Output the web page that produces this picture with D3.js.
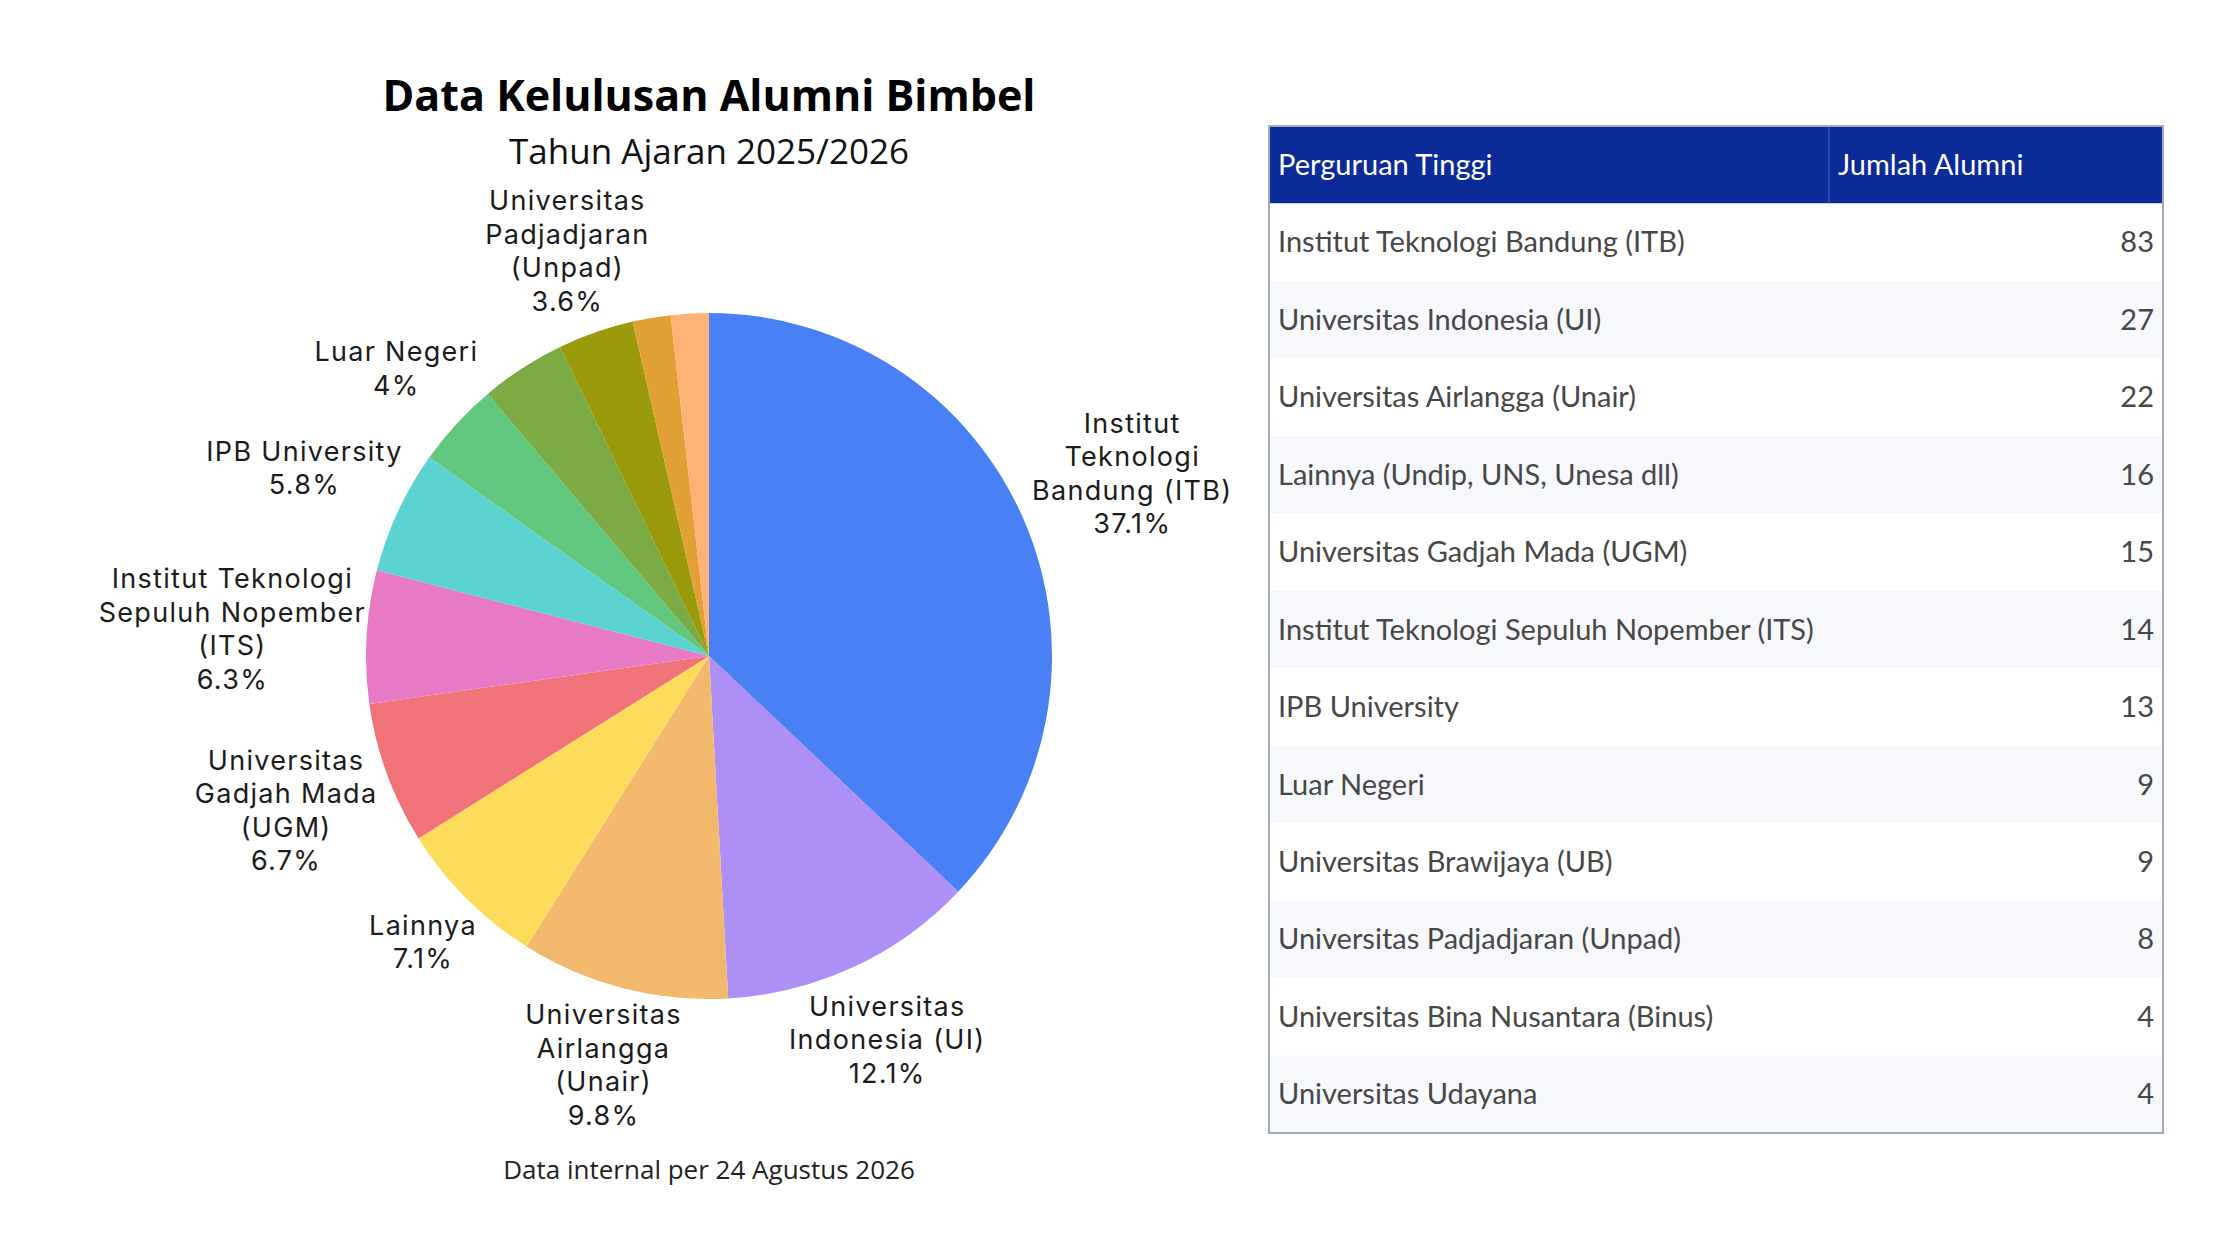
<!DOCTYPE html>
<html>
<head>
<meta charset="utf-8">
<script src="https://cdn.jsdelivr.net/npm/d3@7.9.0/dist/d3.min.js"></script>
<style>
  html, body { margin: 0; padding: 0; background: #fff; }
  svg { display: block; }
  .lbl { font-family: Inter, sans-serif; font-size: 27px; letter-spacing: 1.3px; fill: #1b1b1b; }
  .cell { font-family: Lato, sans-serif; font-size: 29px; fill: #474747; }
</style>
</head>
<body>
<svg id="chart" width="2240" height="1260"></svg>
<script>
// data
const names = [
  'Institut Teknologi Bandung (ITB)',
  'Universitas Indonesia (UI)',
  'Universitas Airlangga (Unair)',
  'Lainnya (Undip, UNS, Unesa dll)',
  'Universitas Gadjah Mada (UGM)',
  'Institut Teknologi Sepuluh Nopember (ITS)',
  'IPB University',
  'Luar Negeri',
  'Universitas Brawijaya (UB)',
  'Universitas Padjadjaran (Unpad)',
  'Universitas Bina Nusantara (Binus)',
  'Universitas Udayana'
];
const counts = [83, 27, 22, 16, 15, 14, 13, 9, 9, 8, 4, 4];
// how the pie labels wrap
const pieLabels = [
  'Institut\nTeknologi\nBandung (ITB)',
  'Universitas\nIndonesia (UI)',
  'Universitas\nAirlangga\n(Unair)',
  'Lainnya',
  'Universitas\nGadjah Mada\n(UGM)',
  'Institut Teknologi\nSepuluh Nopember\n(ITS)',
  'IPB University',
  'Luar Negeri',
  'Universitas\nBrawijaya\n(UB)',
  'Universitas\nPadjadjaran\n(Unpad)',
  'Universitas Bina\nNusantara\n(Binus)',
  'Universitas\nUdayana'
];
const colors = ['#4a80f5', '#ad8ff5', '#f2b96c', '#fddc5c', '#f0737a', '#e879c4',
                '#5ad3d1', '#62c77e', '#7aab45', '#9a9a0a', '#e0a033', '#fdb377'];
const headers = ['Perguruan Tinggi', 'Jumlah Alumni'];

const svg = d3.select('#chart');
const total = d3.sum(counts);

// ---- titles
const cx = 709, cy = 656, R = 343;
svg.append('text')
  .attr('x', cx).attr('y', 96).attr('dy', '0.35em')
  .attr('text-anchor', 'middle')
  .style('font-family', '"Open Sans", sans-serif').style('font-weight', 700)
  .style('font-size', '43px').style('fill', '#000')
  .text('Data Kelulusan Alumni Bimbel');
svg.append('text')
  .attr('x', cx).attr('y', 152).attr('dy', '0.35em')
  .attr('text-anchor', 'middle')
  .style('font-family', '"Open Sans", sans-serif')
  .style('font-size', '35px').style('fill', '#111')
  .text('Tahun Ajaran 2025/2026');
svg.append('text')
  .attr('x', cx).attr('y', 1170).attr('dy', '0.35em')
  .attr('text-anchor', 'middle')
  .style('font-family', '"Open Sans", sans-serif')
  .style('font-size', '26px').style('fill', '#222')
  .text('Data internal per 24 Agustus 2026');

// ---- pie
const data = counts.map((v, i) => ({ value: v, i }));
const arcs = d3.pie().value(d => d.value).sort(null)(data);
const arcGen = d3.arc().innerRadius(0).outerRadius(R);
const g = svg.append('g').attr('transform', `translate(${cx},${cy})`);

g.selectAll('path')
  .data(arcs)
  .join('path')
    .attr('d', arcGen)
    .attr('fill', d => colors[d.data.i]);

// labels: box slid out along the mid-angle until its nearest point clears the rim
const lineH = 33.5;
const placed = [];
arcs.forEach(a => {
  const pct = d3.format('.1~f')(a.data.value / total * 100) + '%';
  const lines = pieLabels[a.data.i].split('\n').concat(pct);
  const t = g.append('text').attr('class', 'lbl').attr('text-anchor', 'middle');
  lines.forEach((ln, k) => {
    t.append('tspan').attr('x', 0).attr('y', k * lineH).text(ln);
  });
  const bb = t.node().getBBox();
  const w = bb.width, h = lines.length * lineH;
  const mid = (a.startAngle + a.endAngle) / 2;
  const ux = Math.sin(mid), uy = -Math.cos(mid);
  const gap = (d) => {
    const px = ux * d, py = uy * d;
    const nx = Math.max(px - w / 2, Math.min(0, px + w / 2));
    const ny = Math.max(py - h / 2, Math.min(0, py + h / 2));
    return Math.hypot(nx, ny) - R * 1.0;
  };
  let lo = 0, hi = R * 3;
  for (let k = 0; k < 40; k++) {
    const m = (lo + hi) / 2;
    if (gap(m) < 0) lo = m; else hi = m;
  }
  const px = ux * hi, py = uy * hi;
  const box = { x0: px - w / 2, x1: px + w / 2, y0: py - h / 2, y1: py + h / 2 };
  const hit = placed.some(b => box.x0 < b.x1 && box.x1 > b.x0 && box.y0 < b.y1 && box.y1 > b.y0);
  if (hit) { t.remove(); return; }
  placed.push(box);
  t.attr('transform', `translate(${px - (bb.x + bb.width / 2)},${py - (bb.y + bb.height / 2)})`);
});

// ---- table
const tx0 = 1269, tx1 = 2163, ty0 = 126, ty1 = 1133, colSplit = 1829;
const rows = d3.range(names.length + 1);
const y = d3.scaleBand().domain(rows).range([ty0, ty1]);
const tbl = svg.append('g');

tbl.selectAll('rect.row')
  .data(rows)
  .join('rect')
    .attr('class', 'row')
    .attr('x', tx0).attr('width', tx1 - tx0)
    .attr('y', d => y(d)).attr('height', y.bandwidth())
    .attr('fill', d => d === 0 ? '#0b2b99' : (d % 2 === 1 ? '#ffffff' : '#f6f8fb'));

tbl.append('line')
  .attr('x1', colSplit).attr('x2', colSplit)
  .attr('y1', y(0)).attr('y2', y(0) + y.bandwidth())
  .attr('stroke', '#3a55b0').attr('stroke-width', 1.5);

tbl.append('rect')
  .attr('x', tx0).attr('y', ty0)
  .attr('width', tx1 - tx0).attr('height', ty1 - ty0)
  .attr('fill', 'none').attr('stroke', '#a3acbd').attr('stroke-width', 2);

tbl.selectAll('text.head')
  .data(headers)
  .join('text')
    .attr('class', 'cell head')
    .attr('x', (d, i) => (i === 0 ? tx0 : colSplit) + 9)
    .attr('y', y(0) + y.bandwidth() / 2).attr('dy', '0.35em')
    .style('fill', '#fff')
    .text(d => d);

tbl.selectAll('text.name')
  .data(names)
  .join('text')
    .attr('class', 'cell name')
    .attr('x', tx0 + 9)
    .attr('y', (d, i) => y(i + 1) + y.bandwidth() / 2).attr('dy', '0.35em')
    .text(d => d);

tbl.selectAll('text.val')
  .data(counts)
  .join('text')
    .attr('class', 'cell val')
    .attr('x', tx1 - 9).attr('text-anchor', 'end')
    .attr('y', (d, i) => y(i + 1) + y.bandwidth() / 2).attr('dy', '0.35em')
    .text(d => d);
</script>
</body>
</html>
